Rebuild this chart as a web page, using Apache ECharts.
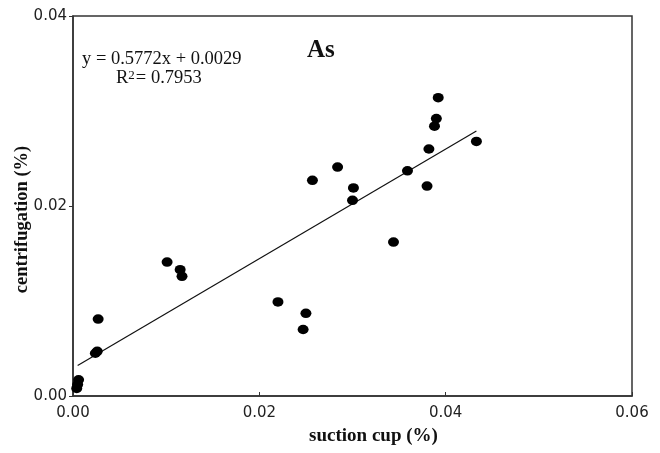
<!DOCTYPE html>
<html>
<head>
<meta charset="utf-8">
<script src="https://cdn.jsdelivr.net/npm/echarts@6/dist/echarts.min.js"></script>
<style>
  html, body { margin: 0; padding: 0; background: #fff; }
  #main { width: 660px; height: 453px; }
</style>
</head>
<body>
<div id="main"></div>
<script>
// suction cup (%) vs centrifugation (%)
const suctionCup = [
  0.0006, 0.0005, 0.0004, 0.0024, 0.0026, 0.0027,
  0.0101, 0.0115, 0.0117,
  0.0220, 0.0247, 0.0250, 0.0257, 0.0284,
  0.0300, 0.0301, 0.0344, 0.0359, 0.0380, 0.0382,
  0.0388, 0.0390, 0.0392, 0.0433,
]
const centrifugation = [
  0.0017, 0.0012, 0.0008, 0.0045, 0.0047, 0.0081,
  0.0141, 0.0133, 0.0126,
  0.0099, 0.0070, 0.0087, 0.0227, 0.0241,
  0.0206, 0.0219, 0.0162, 0.0237, 0.0221, 0.0260,
  0.0284, 0.0292, 0.0314, 0.0268,
]

// fitted line endpoints: y = 0.5772x + 0.0029
const trendX = [0.0005, 0.0433]
const trendY = [0.0032, 0.0279]

const xTicks = { min: 0, max: 0.06, interval: 0.02 }
const yTicks = { min: 0, max: 0.04, interval: 0.02 }

const equationText = 'y = 0.5772x + 0.0029'
const chartLabel = 'As'

const points = suctionCup.map((x, i) => [x, centrifugation[i]])
const trend = trendX.map((x, i) => [x, trendY[i]])

const AXIS_COLOR = '#333'
const SERIF = '"Liberation Serif", "Times New Roman", serif'
const SANS = '"DejaVu Sans", "Open Sans", sans-serif'

function main() {
  const chart = echarts.init(document.getElementById('main'))
  chart.setOption({
    animation: false,
    grid: {
      left: 73,
      top: 16,
      right: 28,
      bottom: 57,
      containLabel: false,
      outerBoundsMode: 'none',
      show: true,
      borderColor: AXIS_COLOR,
      borderWidth: 1.5,
    },
    xAxis: {
      type: 'value',
      ...xTicks,
      name: 'suction cup (%)',
      nameLocation: 'middle',
      nameGap: 31,
      nameMoveOverlap: false,
      nameTextStyle: {
        fontFamily: SERIF, fontWeight: 'bold', fontSize: 19, color: '#111',
        padding: [0, 0, 0, 42],
      },
      axisLine: { lineStyle: { color: AXIS_COLOR, width: 1.5 } },
      axisTick: { inside: true, length: 4, lineStyle: { color: AXIS_COLOR } },
      axisLabel: {
        formatter: (v) => v.toFixed(2),
        fontFamily: SANS, fontSize: 15, color: '#222', margin: 10,
      },
      splitLine: { show: false },
    },
    yAxis: {
      type: 'value',
      ...yTicks,
      name: 'centrifugation (%)',
      nameLocation: 'middle',
      nameGap: 41,
      nameMoveOverlap: false,
      nameTextStyle: {
        fontFamily: SERIF, fontWeight: 'bold', fontSize: 18.5, color: '#111',
        padding: [0, 27, 0, 0],
      },
      axisLine: { show: true, lineStyle: { color: AXIS_COLOR, width: 1.5 } },
      axisTick: { show: true, length: 4, lineStyle: { color: AXIS_COLOR } },
      axisLabel: {
        formatter: (v) => v.toFixed(2),
        fontFamily: SANS, fontSize: 15, color: '#222', margin: 6,
      },
      splitLine: { show: false },
    },
    series: [
      {
        type: 'line',
        data: trend,
        symbol: 'none',
        lineStyle: { color: '#111', width: 1.2 },
        silent: true,
        z: 1,
      },
      {
        type: 'scatter',
        data: points,
        symbol: 'circle',
        symbolSize: [11, 9.5],
        itemStyle: { color: '#000', opacity: 1 },
        z: 2,
      },
    ],
    graphic: [
      {
        type: 'text',
        left: 82,
        top: 50,
        style: {
          text: equationText,
          font: '18.5px ' + SERIF,
          fill: '#111',
        },
      },
      {
        type: 'text',
        left: 116,
        top: 69,
        style: {
          text: 'R{sup|2}= 0.7953',
          font: '18.5px ' + SERIF,
          fill: '#111',
          rich: {
            sup: { fontSize: 13, fontFamily: SERIF, verticalAlign: 'top', lineHeight: 12, padding: [0, 1, 8, 0] },
          },
        },
      },
      {
        type: 'text',
        left: 307,
        top: 38,
        style: {
          text: chartLabel,
          font: 'bold 25px ' + SERIF,
          fill: '#111',
        },
      },
    ],
  })
}

window.onload = main
</script>
</body>
</html>
